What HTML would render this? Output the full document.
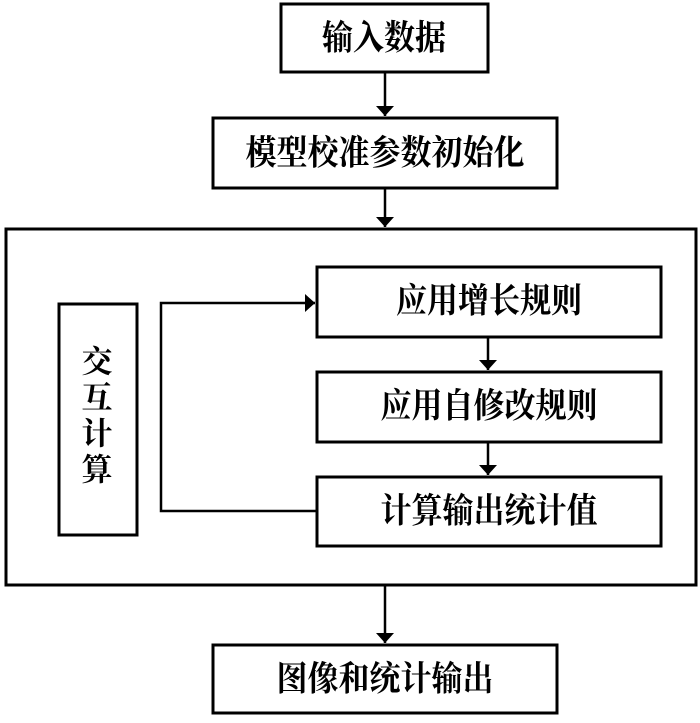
<!DOCTYPE html>
<html><head><meta charset="utf-8"><style>
body{margin:0;background:#fff;}
svg text{font-family:"Liberation Serif","Noto Serif CJK SC","Noto Sans CJK SC",serif;font-size:31px;font-weight:bold;fill:#000;text-anchor:middle;dominant-baseline:central;}
</style></head><body>
<svg width="700" height="718" viewBox="0 0 700 718" xmlns="http://www.w3.org/2000/svg">
<defs><marker id="a" markerWidth="10" markerHeight="18" refX="10" refY="5" orient="auto" markerUnits="userSpaceOnUse" viewBox="0 0 10 10" preserveAspectRatio="none"><path d="M0,0L10,5L0,10z" fill="#000"/></marker></defs>
<g fill="none" stroke="#000" stroke-width="3">
<rect x="281" y="4" width="207" height="68"/>
<rect x="213" y="118" width="344" height="70"/>
<rect x="6" y="229" width="690" height="356"/>
<rect x="59" y="304" width="78" height="231"/>
<rect x="317" y="267" width="344" height="70"/>
<rect x="317" y="372" width="344" height="70"/>
<rect x="317" y="477" width="344" height="69"/>
<rect x="213" y="645" width="344" height="68"/>
</g>
<g stroke="#000" stroke-width="2.5" fill="none">
<line x1="385" y1="72" x2="385" y2="116" marker-end="url(#a)"/>
<line x1="385" y1="188" x2="385" y2="227" marker-end="url(#a)"/>
<line x1="488" y1="337" x2="488" y2="370" marker-end="url(#a)"/>
<line x1="488" y1="442" x2="488" y2="475" marker-end="url(#a)"/>
<line x1="385" y1="585" x2="385" y2="643" marker-end="url(#a)"/>
<polyline points="317,511 161,511 161,303 315,303" marker-end="url(#a)"/>
</g>
<g transform="translate(0,39) scale(1,1.12)"><text x="384" y="0">输入数据</text></g>
<g transform="translate(0,154) scale(1,1.12)"><text x="385" y="0">模型校准参数初始化</text></g>
<g transform="translate(0,302) scale(1,1.12)"><text x="489" y="0">应用增长规则</text></g>
<g transform="translate(0,407) scale(1,1.12)"><text x="489" y="0">应用自修改规则</text></g>
<g transform="translate(0,512) scale(1,1.12)"><text x="489" y="0">计算输出统计值</text></g>
<g transform="translate(0,680) scale(1,1.12)"><text x="385" y="0">图像和统计输出</text></g>
<text x="97" y="362">交</text>
<text x="97" y="398">互</text>
<text x="97" y="434">计</text>
<text x="97" y="470">算</text>
</svg>
</body></html>
